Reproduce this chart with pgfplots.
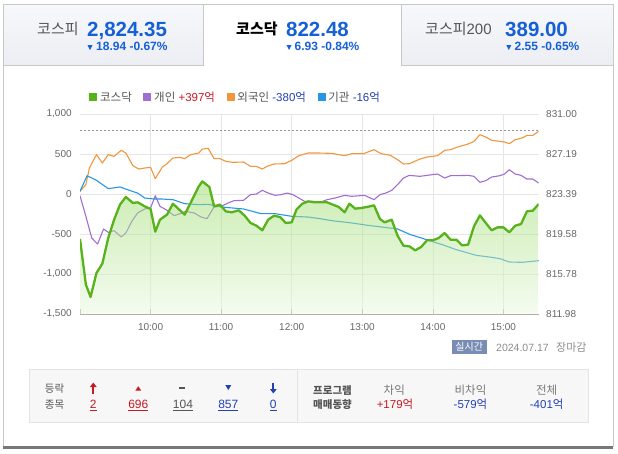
\documentclass[border=0pt]{standalone}
\usepackage{fontspec}
\setmainfont{Liberation Sans}
\newfontfamily\kr{Noto Sans CJK KR}
\usepackage{pgfplots}
\pgfplotsset{compat=1.18}
\usepackage{pgfplotstable}
\usetikzlibrary{arrows.meta}

\definecolor{kqgreen}{RGB}{88,178,28}
\definecolor{indpurple}{RGB}{160,110,210}
\definecolor{frgorange}{RGB}{240,150,60}
\definecolor{instblue}{RGB}{40,150,230}
\definecolor{filltop}{RGB}{150,218,100}
\definecolor{fillbot}{RGB}{235,248,225}
\definecolor{gridgray}{RGB}{230,230,230}
\definecolor{axisgray}{RGB}{170,170,170}
\definecolor{labgray}{RGB}{102,102,102}
\definecolor{txtgray}{RGB}{85,85,85}
\definecolor{subgray}{RGB}{120,120,120}
\definecolor{dategray}{RGB}{140,140,140}
\definecolor{bordergray}{RGB}{200,200,200}
\definecolor{boxbg}{RGB}{247,247,247}
\definecolor{boxline}{RGB}{228,228,228}
\definecolor{tabtop}{RGB}{247,248,251}
\definecolor{tabbot}{RGB}{236,238,243}
\definecolor{closegray}{RGB}{150,150,150}
\definecolor{shadow}{RGB}{120,120,120}
\definecolor{numblue}{RGB}{22,96,214}
\definecolor{upred}{RGB}{200,25,35}
\definecolor{dnblue}{RGB}{35,65,180}
\definecolor{badge}{RGB}{120,140,180}

% minutes after 09:00, net buying in 억 (KOSDAQ index mapped on the same scale)
\pgfplotstableread{
t v
0 -562
5 -1133
9 -1287
14 -988
19 -871
24 -550
29 -321
34 -133
39 -37
45 -112
49 -104
55 -154
60 -187
64 -471
68 -321
74 -258
79 -121
85 -204
89 -258
94 -112
101 96
104 158
110 88
114 -154
119 -133
124 -217
129 -229
135 -204
140 -271
145 -362
150 -396
155 -454
160 -321
165 -271
170 -288
175 -362
180 -354
184 -196
189 -121
194 -92
200 -104
210 -104
215 -133
220 -162
225 -229
229 -121
234 -183
239 -175
244 -162
250 -142
255 -312
259 -354
265 -321
270 -521
275 -646
280 -654
285 -704
290 -663
295 -579
300 -579
305 -550
310 -488
315 -571
320 -571
325 -642
330 -633
335 -404
340 -267
345 -362
350 -454
355 -417
360 -417
365 -479
370 -396
375 -375
380 -217
385 -208
390 -125
}\kosdaq

\pgfplotstableread{
t v
0 -21
5 -279
10 -550
15 -625
20 -437
24 -479
29 -458
35 -537
39 -487
44 -342
49 -237
55 -187
60 -175
64 -21
68 -154
74 -204
80 -271
85 -246
90 -217
97 -237
103 -288
108 -308
114 -162
120 -154
126 -112
131 -83
139 -79
145 -8
150 0
155 46
160 12
166 -17
171 -8
176 12
181 -8
186 -50
191 -92
197 -92
204 -104
210 -71
217 -50
225 -17
231 -29
242 -17
250 -71
255 -8
260 12
265 46
270 117
275 200
280 233
289 221
295 233
304 250
310 200
315 229
321 229
330 233
335 221
340 146
345 167
350 212
357 229
361 250
365 304
370 250
375 233
380 187
385 187
390 137
}\individual

\pgfplotstableread{
t v
0 33
5 117
8 325
14 492
19 388
24 492
29 471
35 546
39 512
45 354
50 312
55 325
60 333
64 192
70 337
74 379
79 450
85 458
89 442
94 492
101 512
104 562
109 571
114 442
119 442
124 408
130 396
139 400
145 346
150 346
155 312
159 346
165 375
174 379
180 421
186 479
194 512
204 512
214 508
225 479
231 504
241 504
250 554
256 504
264 483
270 429
275 375
280 379
289 437
295 462
304 479
310 546
315 554
321 587
330 625
335 658
340 742
345 712
350 671
357 658
361 650
365 629
370 679
376 700
380 733
385 733
390 783
}\foreign

\pgfplotstableread{
t v
0 33
6 229
14 171
24 67
34 88
42 46
49 12
55 -50
63 -62
69 -62
79 -71
89 -121
101 -133
109 -129
120 -162
139 -187
154 -246
166 -246
180 -279
194 -288
204 -308
214 -333
231 -362
245 -392
256 -412
270 -437
281 -508
292 -558
297 -583
308 -633
320 -696
337 -767
348 -787
357 -808
365 -850
376 -854
390 -833
}\institution

\begin{document}
\begin{tikzpicture}[x=1pt,y=1pt]
\useasboundingbox (0,0) rectangle (618,-453);

% tabs and frame
\shade[top color=tabtop, bottom color=tabbot] (3,-4) rectangle (203,-65);
\shade[top color=tabtop, bottom color=tabbot] (401,-4) rectangle (613,-65);
\draw[bordergray, line width=0.8pt] (3,-4) rectangle (203,-65);
\draw[bordergray, line width=0.8pt] (401,-4) rectangle (613,-65);
\draw[bordergray, line width=0.8pt] (203,-4) -- (401,-4);
\draw[bordergray, line width=0.8pt] (3,-65) -- (3,-447);
\draw[bordergray, line width=0.8pt] (613,-65) -- (613,-447);
\draw[shadow, line width=2.5pt] (3,-447.5) -- (613,-447.5);

% tab texts
\node[anchor=base west, inner sep=0, text=txtgray, font=\kr\fontsize{15}{15}\selectfont] at (37,-34) {코스피};
\node[anchor=base west, inner sep=0, text=numblue, font=\bfseries\fontsize{20.5}{20.5}\selectfont] at (87,-36) {2,824.35};
\fill[numblue] (87.5,-45) -- (92.5,-45) -- (90,-50) -- cycle;
\node[anchor=base west, inner sep=0, text=numblue, font=\bfseries\fontsize{12}{12}\selectfont] at (96,-50.7) {18.94 -0.67\%};

\node[anchor=base west, inner sep=0, text=black, font=\kr\bfseries\fontsize{15}{15}\selectfont] at (236,-34) {코스닥};
\node[anchor=base west, inner sep=0, text=numblue, font=\bfseries\fontsize{20.5}{20.5}\selectfont] at (286,-36) {822.48};
\fill[numblue] (286.6,-45) -- (291.6,-45) -- (289.1,-50) -- cycle;
\node[anchor=base west, inner sep=0, text=numblue, font=\bfseries\fontsize{12}{12}\selectfont] at (294.5,-50.7) {6.93 -0.84\%};

\node[anchor=base west, inner sep=0, text=txtgray, font=\fontsize{15}{15}\selectfont] at (425,-34) {{\kr 코스피}200};
\node[anchor=base west, inner sep=0, text=numblue, font=\bfseries\fontsize{20.5}{20.5}\selectfont] at (505,-36) {389.00};
\fill[numblue] (506.3,-45) -- (511.3,-45) -- (508.8,-50) -- cycle;
\node[anchor=base west, inner sep=0, text=numblue, font=\bfseries\fontsize{12}{12}\selectfont] at (514.5,-50.7) {2.55 -0.65\%};

\begin{axis}[
    at={(80pt,-314pt)}, anchor=south west,
    width=458.7pt, height=200pt, scale only axis,
    xmin=0, xmax=390, ymin=-1500, ymax=1000,
    axis y line*=left, axis x line*=bottom,
    y axis line style={draw=none},
    x axis line style={draw=axisgray, line width=0.8pt, -},
    xtick={60,120,180,240,300,360},
    xticklabels={10:00,11:00,12:00,13:00,14:00,15:00},
    extra x ticks={0}, extra x tick labels={}, extra x tick style={grid=none},
    ytick={-1500,-1000,-500,0,500,1000},
    yticklabels={{-1,500},{-1,000},-500,0,500,{1,000}},
    grid=major, grid style={draw=gridgray, line width=0.6pt},
    major tick length=5pt, tick align=inside,
    x tick style={draw=axisgray, line width=0.6pt},
    y tick style={draw=none},
    ticklabel style={font=\fontsize{10}{11}\selectfont, text=labgray},
    xticklabel style={yshift=-6pt},
    yticklabel style={xshift=-4.8pt},
    legend columns=4,
    legend image code/.code={\fill (0pt,-3.5pt) rectangle (7pt,3.5pt); \path (9pt,0pt);},
    legend style={at={(0.0196,1.085)}, anchor=west, draw=none, fill=none,
        inner sep=0pt, font=\fontsize{11.5}{13}\selectfont, text=txtgray,
        nodes={inner sep=1.5pt},
        /tikz/every even column/.append style={column sep=10pt}},
    line join=round,
]
\addlegendimage{kqgreen}
\addlegendentry{\kr 코스닥}
\addlegendimage{indpurple}
\addlegendentry{{\kr 개인} \textcolor{upred}{+397{\kr 억}}}
\addlegendimage{frgorange}
\addlegendentry{{\kr 외국인} \textcolor{dnblue}{-380{\kr 억}}}
\addlegendimage{instblue}
\addlegendentry{{\kr 기관} \textcolor{dnblue}{-16{\kr 억}}}

% previous close 829.41
\addplot[forget plot, closegray, line width=0.8pt, dash pattern=on 2pt off 2pt] coordinates {(0,791) (390,791)};

\addplot[forget plot, indpurple, line width=1.1pt] table[x=t,y=v] {\individual};
\addplot[forget plot, frgorange, line width=1.1pt] table[x=t,y=v] {\foreign};
\addplot[forget plot, instblue, line width=1.1pt] table[x=t,y=v] {\institution};

\addplot[forget plot, draw=none, top color=filltop, bottom color=fillbot, fill opacity=0.5]
    table[x=t,y=v] {\kosdaq} -- (axis cs:390,-1500) -- (axis cs:0,-1500) -- cycle;
\addplot[forget plot, kqgreen, line width=2.3pt] table[x=t,y=v] {\kosdaq};
\end{axis}

\begin{axis}[
    at={(80pt,-314pt)}, anchor=south west,
    width=458.7pt, height=200pt, scale only axis,
    xmin=0, xmax=390, ymin=-1500, ymax=1000,
    hide x axis, axis y line*=right,
    y axis line style={draw=none}, y tick style={draw=none},
    ytick={-1500,-1000,-500,0,500,1000},
    yticklabels={811.98,815.78,819.58,823.39,827.19,831.00},
    yticklabel style={font=\fontsize{10}{11}\selectfont, text=labgray, xshift=4pt},
]
\addplot[draw=none] coordinates {(0,0)};
\end{axis}

% status line
\fill[badge] (451.5,-340) rectangle (487,-353.5);
\node[text=white, inner sep=0, font=\kr\fontsize{10}{10}\selectfont] at (469.2,-346.8) {실시간};
\node[anchor=base west, inner sep=0, text=dategray, font=\fontsize{10.5}{10.5}\selectfont] at (496,-351) {2024.07.17};
\node[anchor=base west, inner sep=0, text=dategray, font=\kr\fontsize{11}{11}\selectfont] at (556,-351) {장마감};

% bottom box
\fill[boxbg] (29,-369) rectangle (588,-422);
\draw[boxline, line width=0.8pt] (29,-369) rectangle (588,-422);
\draw[boxline, line width=0.8pt] (297,-369) -- (297,-422);

\node[anchor=base, inner sep=0, text=txtgray, font=\kr\fontsize{10.5}{10.5}\selectfont] at (54.5,-392.3) {등락};
\node[anchor=base, inner sep=0, text=txtgray, font=\kr\fontsize{10.5}{10.5}\selectfont] at (54.5,-408.3) {종목};

\draw[upred, line width=2pt, -{Triangle[length=4.5pt,width=6.5pt]}] (93.3,-393.5) -- (93.3,-382.5);
\fill[upred] (135.3,-390.7) -- (141.3,-390.7) -- (138.3,-386.2) -- cycle;
\draw[txtgray, line width=1.6pt] (179,-388) -- (185,-388);
\fill[dnblue] (225.3,-385) -- (231.3,-385) -- (228.3,-390) -- cycle;
\draw[dnblue, line width=2pt, -{Triangle[length=4.5pt,width=6.5pt]}] (273.3,-382.5) -- (273.3,-393.5);

\node[anchor=base, inner sep=0, text=upred, font=\fontsize{12}{12}\selectfont] at (93.3,-408.5) {\underline{2}};
\node[anchor=base, inner sep=0, text=upred, font=\fontsize{12}{12}\selectfont] at (138.3,-408.5) {\underline{696}};
\node[anchor=base, inner sep=0, text=txtgray, font=\fontsize{12}{12}\selectfont] at (183,-408.5) {\underline{104}};
\node[anchor=base, inner sep=0, text=dnblue, font=\fontsize{12}{12}\selectfont] at (228.3,-408.5) {\underline{857}};
\node[anchor=base, inner sep=0, text=dnblue, font=\fontsize{12}{12}\selectfont] at (273.3,-408.5) {\underline{0}};

\node[anchor=base, inner sep=0, text=txtgray, font=\kr\bfseries\fontsize{10.5}{10.5}\selectfont] at (332.5,-394) {프로그램};
\node[anchor=base, inner sep=0, text=txtgray, font=\kr\bfseries\fontsize{10.5}{10.5}\selectfont] at (332.5,-408.3) {매매동향};

\node[anchor=base, inner sep=0, text=subgray, font=\kr\fontsize{11.5}{11.5}\selectfont] at (394.3,-394) {차익};
\node[anchor=base, inner sep=0, text=subgray, font=\kr\fontsize{11.5}{11.5}\selectfont] at (470.5,-394) {비차익};
\node[anchor=base, inner sep=0, text=subgray, font=\kr\fontsize{11.5}{11.5}\selectfont] at (546.7,-394) {전체};
\node[anchor=base, inner sep=0, text=upred, font=\fontsize{11.5}{11.5}\selectfont] at (395,-408.5) {+179{\kr 억}};
\node[anchor=base, inner sep=0, text=dnblue, font=\fontsize{11.5}{11.5}\selectfont] at (470.5,-408.5) {-579{\kr 억}};
\node[anchor=base, inner sep=0, text=dnblue, font=\fontsize{11.5}{11.5}\selectfont] at (546.7,-408.5) {-401{\kr 억}};
\end{tikzpicture}
\end{document}
